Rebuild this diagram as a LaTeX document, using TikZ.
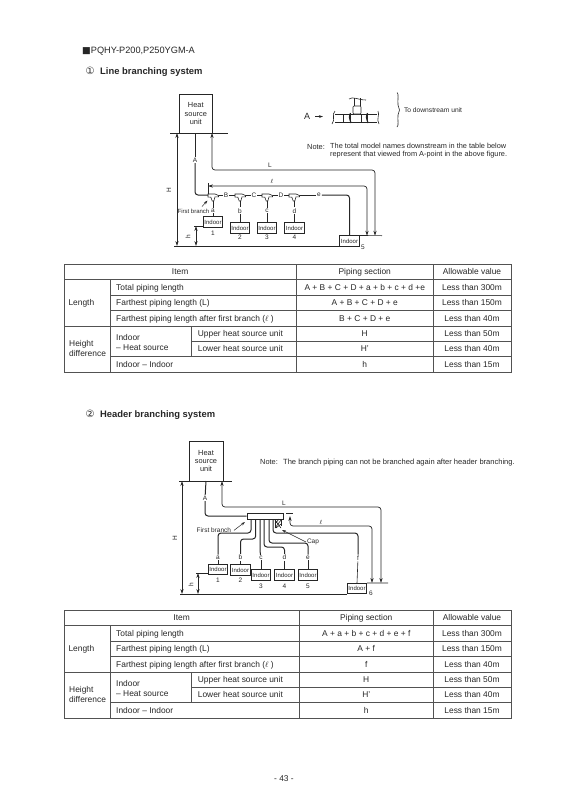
\documentclass[tikz,border=0pt]{standalone}
\usepackage{fontspec}
\setmainfont{Liberation Sans}
\newfontfamily\symfont{DejaVu Sans}
\usetikzlibrary{positioning}
\usetikzlibrary{arrows.meta}
\definecolor{ink}{gray}{0.15}
\tikzset{
  txt/.style = {inner sep=0pt, anchor=mid, text=ink, font=\fontsize{8.4}{10}\selectfont},
  small/.style = {inner sep=0.8pt, text=ink, font=\fontsize{6.5}{7.5}\selectfont},
  notetxt/.style = {inner sep=0pt, text=ink, anchor=mid west, font=\fontsize{7.4}{8.6}\selectfont},
  unitbox/.style = {draw=ink, line width=0.6pt, align=center, inner sep=0pt, text=ink, font=\fontsize{7.4}{8.1}\selectfont},
  indoor/.style = {draw=ink, line width=0.6pt, fill=white, inner sep=0pt, minimum width=19.5pt, minimum height=10.5pt, text=ink, font=\fontsize{6}{7}\selectfont},
  pipe/.style = {draw=ink, line width=1pt, rounded corners=3pt},
  thin line/.style = {draw=ink, line width=0.6pt},
  dim/.style = {draw=ink, line width=0.6pt, {Stealth[length=5pt,width=3.2pt]}-{Stealth[length=5pt,width=3.2pt]}},
  flow/.style = {draw=ink, line width=0.7pt, rounded corners=3pt, {Stealth[length=5pt,width=3.2pt]}-{Stealth[length=5pt,width=3.2pt]}},
  leader/.style = {draw=ink, line width=0.5pt, -{Stealth[length=4pt,width=2.6pt]}},
  grid/.style = {draw=ink!80, line width=0.5pt},
  frame/.style = {draw=ink!80, line width=0.8pt},
}
% one table, the only changes are the section column
\newcommand{\itemtable}[5]{
  \begin{scope}[shift={(0,#1)}]
    \draw[frame] (64.3,264) rectangle (511,372.2);
    \foreach \y in {279.3,326} \draw[frame] (64.3,\y) -- (511,\y);
    \foreach \y in {295,310.6,356.7} \draw[grid] (110.3,\y) -- (511,\y);
    \draw[grid] (191.7,341.4) -- (511,341.4);
    \draw[grid] (110.3,279.3) -- (110.3,372.2);
    \draw[grid] (191.7,326) -- (191.7,356.7);
    \draw[grid] (#2,264) -- (#2,372.2);
    \draw[grid] (433.3,264) -- (433.3,372.2);
    \node[txt] (item#1) at (#2/2+32,272) {Item};
    \node[txt] (sect#1) at (#2/2+216.6,272) {Piping section};
    \node[txt] (allow#1) at (472,272) {Allowable value};
    \node[txt,anchor=mid west] (len#1) at (68.3,303.3) {Length};
    \node[txt,anchor=west,align=left] (hgt#1) at (69,348.7) {Height\\difference};
    \foreach \n/\y/\t in {a/287.6/Total piping length,b/303.2/Farthest piping length (L),
        c/318.6/Farthest piping length after first branch ($\ell$ ),d/364.4/Indoor -- Indoor}
      \node[txt,anchor=mid west] (row\n#1) at (116,\y) {\t};
    \node[txt,anchor=west,align=left] (ihs#1) at (116,342.3) {Indoor\\-- Heat source};
    \node[txt,anchor=mid west] (up#1) at (197.7,333.8) {Upper heat source unit};
    \node[txt,anchor=mid west] (low#1) at (197.7,349) {Lower heat source unit};
    \foreach \n/\y/\t/\v in {1/287.6/#3/300m,2/303.2/#4/150m,3/318.6/#5/40m,4/333.8/H/50m,5/349/H'/40m,6/364.4/h/15m}{
      \node[txt] (sec\n#1) at (#2/2+216.6,\y) {\t};
      \node[txt] (val\n#1) at (472,\y) {Less than \v};
    }
  \end{scope}
}
% tee joint of the line branching
\newcommand{\teejoint}[2]{
  \node[inner sep=0pt, minimum width=11pt, minimum height=7pt] (#1) at (#2) {};
  \draw[thin line, fill=white, shift={(#2)}] (-5,-3.5) -- (2,-3.5) -- (5.5,-2) -- (5.5,-0.6) -- (2,-0.6)
    -- (0.8,3.5) -- (-0.8,3.5) -- (-2.2,-0.4) -- (-5,-0.4) -- cycle;
}

\begin{document}
\begin{tikzpicture}[x=1pt, y=-1pt]
  \useasboundingbox (0,0) rectangle (569,804);

  % headings
  \node[txt,anchor=mid west,font=\fontsize{9.2}{10}\selectfont] (model) at (82,51) {{\symfont ■}PQHY-P200,P250YGM-A};
  \node[txt,font=\fontsize{10}{10}\selectfont\symfont] (num1) at (90,72) {①};
  \node[txt,anchor=mid west,font=\fontsize{9.4}{10}\selectfont\bfseries] (head1) at (100,72) {Line branching system};
  \node[txt,font=\fontsize{10}{10}\selectfont\symfont] (num2) at (90,415) {②};
  \node[txt,anchor=mid west,font=\fontsize{9.4}{10}\selectfont\bfseries] (head2) at (100,415) {Header branching system};

  % line branching system
  \node[unitbox, minimum width=33.5pt, minimum height=39pt] (unitA) at (195.8,113.5) {Heat\\source\\unit};
  \draw[thin line] (170,133) -- (228,133);
  \draw[thin line] (174,246) -- (339,246);
  \node[indoor] (in5) at (349.5,241) {Indoor};
  \draw[thin line] (in5.north east) -- (382,235.7);
  \node[small] (num5) at (363,247) {5};

  \node[small] (lblH) at (169,190) {\rotatebox{90}{H}};
  \draw[dim] (177,133) -- (177,246);

  \node[small] (lblA) at (195,160) {A};
  \node[small] (lblL) at (270,165) {L};
  \node[small] (lblE) at (272,181) {$\ell$};
  \teejoint{j1}{213,197.5}
  \teejoint{j2}{240,197.5}
  \teejoint{j3}{267,197.5}
  \teejoint{j4}{294,197.5}
  \node[small] (lblB) at (226,195) {B};
  \node[small] (lblC) at (254,195) {C};
  \node[small] (lblD) at (281,195) {D};
  \node[small] (lble) at (319,195) {e};

  \draw[pipe] (195,133) -- (lblA);
  \draw[pipe] (lblA) |- (208,195);
  \draw[thin line] (218.5,195) -- (lblB);
  \draw[thin line] (lblB) -- (235,195);
  \draw[thin line] (245.5,195) -- (lblC);
  \draw[thin line] (lblC) -- (262,195);
  \draw[thin line] (272.5,195) -- (lblD);
  \draw[thin line] (lblD) -- (289,195);
  \draw[thin line] (299.5,195) -- (lble);
  \draw[pipe] (lble) -| (in5.north);
  \draw[flow] (212,133) |- (375,170) -- (375,235.7);
  \draw[flow] (208,186) -- (367,186) -- (367,235.7);
  \draw[thin line] (208,183) -- (208,193.5);

  \foreach \n/\t/\x/\y/\u/\m in {1/a/213/222/1/233,2/b/240/228/2/237,3/c/267/228/3/237,4/d/294.5/228/4/237}{
    \node[indoor] (in\n) at (\x,\y) {Indoor};
    \node[small] (lab\n) at (\x,210.7) {\t};
    \node[small] (num\n) at (\x,\m) {\u};
    \draw[thin line] (\x,201) -- (lab\n);
    \draw[thin line] (lab\n) -- (in\n);
  }
  \node[small,anchor=mid east,inner sep=0pt,font=\fontsize{6}{7}\selectfont] (fb1) at (209.5,210.7) {First branch};
  \draw[leader] (202,206.5) -- (207.5,200.5);
  \draw[thin line] (194,226) -- (in1.west |- 0,226);
  \draw[dim] (196,226) -- (196,246);
  \node[small] (lblh) at (188,237) {\rotatebox{90}{h}};

  % joint seen from point A
  \node[txt,font=\fontsize{9}{10}\selectfont] (ptA) at (307,117) {A};
  \draw[leader] (ptA) ++(8,0) -- ++(8,0);
  \draw[thin line] (335,114) -- (377,114) (335,122) -- (377,122);
  \draw[thin line] (335,111) .. controls (331,115) and (336,119) .. (332,124);
  \draw[thin line] (378,111) .. controls (380,115) and (376,119) .. (379,124);
  \draw[thin line, fill=white] (343,114) rectangle (350,122);
  \draw[thin line, fill=white] (361,114) rectangle (367,122);
  \draw[line width=1.1pt, draw=ink] (350.5,113) .. controls (349,117) .. (351,123);
  \draw[line width=1.1pt, draw=ink] (367.5,113) .. controls (366,117) .. (368,123);
  \draw[thin line, fill=white, rounded corners=1pt] (353,106) rectangle (361,114);
  \draw[thin line] (354,98) -- (354,106) (360,98) -- (360,106);
  \draw[thin line] (349,99) .. controls (353,96) and (358,100) .. (366,100);
  \draw[thin line] (397,92.5) .. controls (399,93) and (397.5,100) .. (398,105) .. controls (398,108) .. (399.5,110)
    .. controls (398,112) .. (398,115) .. controls (397.5,120) and (399,126) .. (397,127);
  \node[small,anchor=mid west,font=\fontsize{6.7}{8}\selectfont] (down) at (403,110) {To downstream unit};
  \node[notetxt] (note1) at (307,147) {Note:};
  \node[notetxt,anchor=west,align=left,font=\fontsize{7.35}{8.6}\selectfont] (note1t) at (330,150.7) {The total model names downstream in the table below\\represent that viewed from A-point in the above figure.};

  \itemtable{0}{296.3}{A + B + C + D + a + b + c + d +e}{A + B + C + D + e}{B + C + D + e}

  % header branching system
  \node[unitbox, minimum width=34pt, minimum height=40pt] (unitB) at (206,461) {Heat\\source\\unit};
  \draw[thin line] (179,481) -- (232,481);
  \draw[thin line] (180,594) -- (347,594);
  \node[indoor] (in6) at (357,588.5) {Indoor};
  \draw[thin line] (in6.north east) -- (388,583);
  \node[small] (num6) at (371,593) {6};
  \node[small] (lblHb) at (175,538) {\rotatebox{90}{H}};
  \draw[dim] (182,481) -- (182,594);
  \node[draw=ink, line width=0.6pt, fill=white, inner sep=0pt, minimum width=36pt, minimum height=6pt] (hdr) at (265,516) {};
  \node[small] (lblAb) at (205,498) {A};
  \node[small] (lblLb) at (284,503) {L};
  \node[small] (lblEb) at (321,522) {$\ell$};
  \draw[pipe] (206,481) -- (lblAb);
  \draw[pipe] (lblAb) |- (hdr.west);
  \draw[flow] (222,481) |- (381,507) -- (381,583);
  \draw[flow] (290,516) |- (372,526) -- (372,583);
  \draw[thin line] (hdr.east) ++(3,-3) -- ++(7,0);

  \foreach \n/\t/\x/\y/\m in {a/1/218/569.5/580,b/2/240.5/570/580.5,c/3/261/575/586,d/4/284.5/575/586,e/5/308/575/586}{
    \node[indoor] (ind\n) at (\x,\y) {Indoor};
    \node[small] (lab\n) at (\x,557.5) {\n};
    \node[small] (num\n) at (\x,\m) {\t};
    \draw[thin line] (lab\n) -- (ind\n);
  }
  \node[small] (labf) at (358,558) {f};
  \draw[pipe] (251,519) |- (218,533) -- (laba);
  \draw[pipe] (255.7,519) |- (240.5,539) -- (labb);
  \draw[pipe] (260,519) -- (260,552) -- (labc);
  \draw[pipe] (264,519) |- (284.5,547) -- (labd);
  \draw[pipe] (269,519) |- (308,543) -- (labe);
  \draw[pipe] (273,519) |- (358,533) -- (labf);
  \draw[thin line] (labf) -- (in6.north);

  % cap
  \draw[thin line] (275,519) -- (275,528) (281,519) -- (281,526);
  \draw[thin line] (275,520) -- (281,528) (281,520) -- (275,528) (275,524) -- (279,519) (276,528) -- (281,524);
  \node[small] (cap) at (313,542) {Cap};
  \draw[leader] (cap.west) -- (282,530);
  \node[small,anchor=mid east] (fb2) at (232,529.5) {First branch};
  \draw[leader] (fb2.east) ++(2,0.5) -- (245,522);
  \draw[thin line] (196,573) -- (inda.west |- 0,573);
  \draw[dim] (198,573) -- (198,594);
  \node[small] (lblhb) at (191,585) {\rotatebox{90}{h}};

  \node[notetxt] (note2) at (260,462) {Note:};
  \node[notetxt,font=\fontsize{7.53}{8.6}\selectfont] (note2t) at (283,462) {The branch piping can not be branched again after header branching.};

  \itemtable{346}{299.3}{A + a + b + c + d + e + f}{A + f}{f}

  \node[txt] (page) at (284,779) {- 43 -};
\end{tikzpicture}
\end{document}
